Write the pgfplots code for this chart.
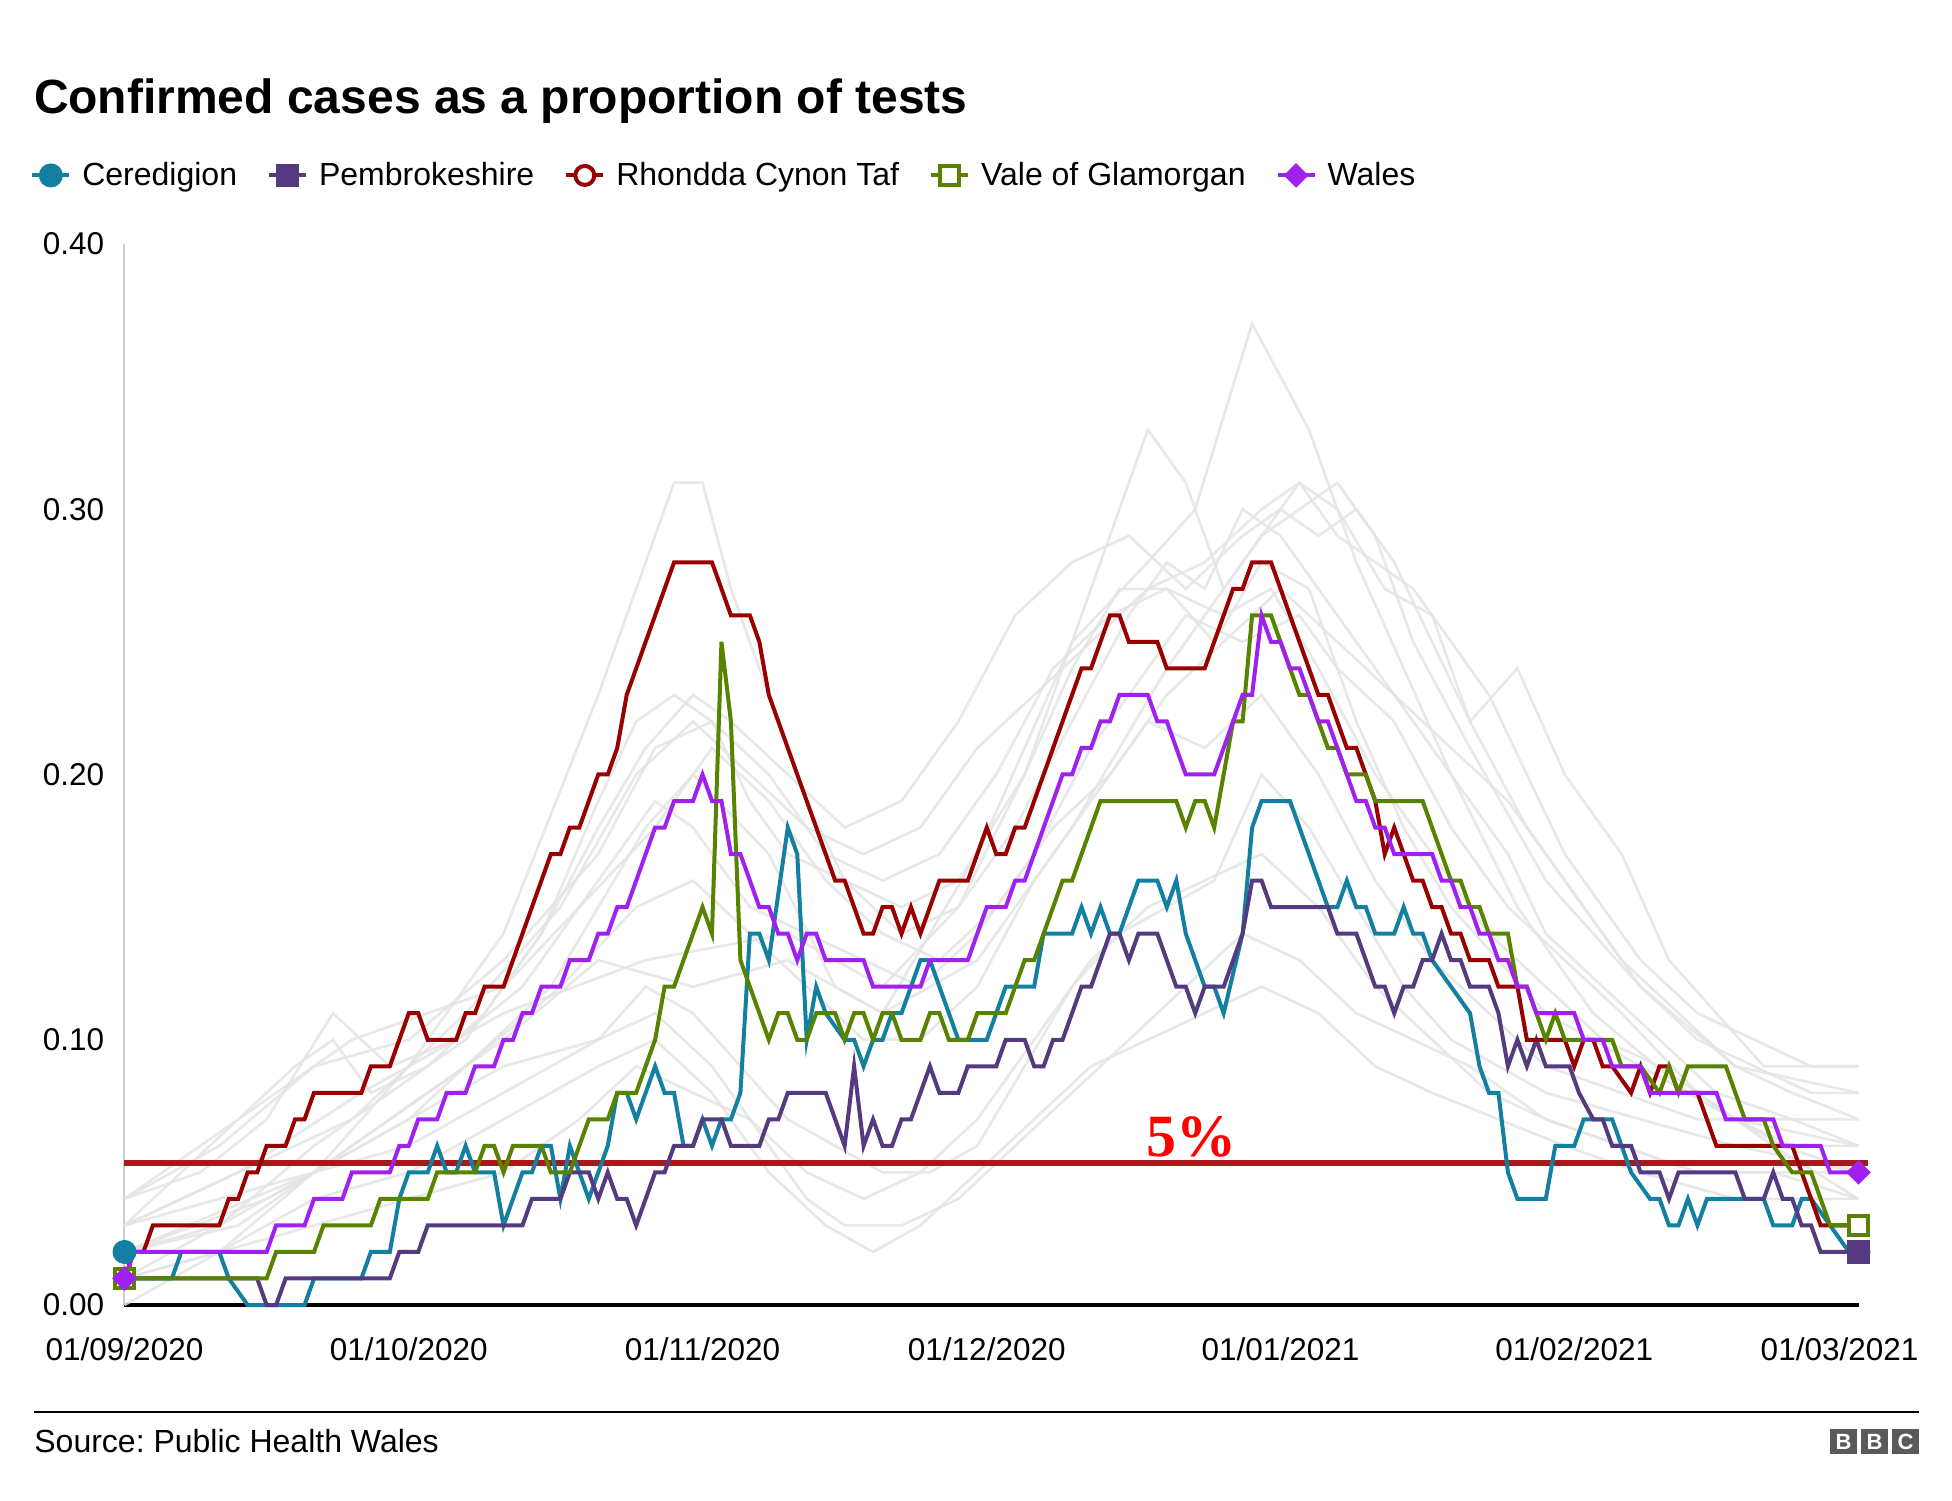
\documentclass[border=0pt]{standalone}
\usepackage{pgfplots}
\pgfplotsset{compat=1.18}
\usepackage{fontspec}
\setmainfont{Liberation Sans}
\newfontfamily\serifbold{Liberation Serif}[BoldFont={Liberation Serif Bold}]
\frenchspacing
\definecolor{cere}{HTML}{1380A1}
\definecolor{pemb}{HTML}{553A80}
\definecolor{rct}{HTML}{990000}
\definecolor{vale}{HTML}{588300}
\definecolor{wales}{HTML}{A020F0}
\definecolor{refline}{HTML}{A31A1A}
\definecolor{bggrey}{HTML}{E4E4E4}
\definecolor{logo}{HTML}{5A5A5A}
\pgfplotsset{
  cereS/.style={color=cere, mark=*, mark size=5.75pt, mark options={solid, line width=0.5pt, fill=cere}},
  pembS/.style={color=pemb, mark=square*, mark size=5.6pt, mark options={solid, line width=0.5pt, fill=pemb}},
  rctS/.style={color=rct, mark=*, mark size=4.75pt, mark options={solid, line width=2pt, fill=white, draw=rct}},
  valeS/.style={color=vale, mark=square*, mark size=4.7pt, mark options={solid, line width=2pt, fill=white, draw=vale}},
  walesS/.style={color=wales, mark=square*, mark size=4.1pt, mark options={solid, rotate=45, line width=0.5pt, fill=wales}},
  mainline/.style={line width=2pt, mark repeat=10000},
  greyline/.style={color=bggrey, line width=1.3pt, opacity=0.85, forget plot},
}
\begin{document}
\begin{tikzpicture}[x=1pt,y=1pt]
\path[use as bounding box] (0,0) rectangle (976,750);
\node[anchor=base west, inner sep=0pt, font=\fontsize{24}{28}\selectfont\bfseries] at (16.8,693) {Confirmed cases as a proportion of tests};

\begin{axis}[
  at={(62.25pt,97.5pt)}, anchor=south west,
  scale only axis, width=867pt, height=530.5pt,
  xmin=0, xmax=183, ymin=0, ymax=0.4,
  clip=false,
  axis lines*=left,
  x axis line style={black, line width=2pt},
  y axis line style={draw=black!20, line width=1pt},
  major tick length=0pt,
  xtick={0,30,61,91,122,153,181},
  xticklabels={01/09/2020,01/10/2020,01/11/2020,01/12/2020,01/01/2021,01/02/2021,01/03/2021},
  ytick={0,0.1,0.2,0.3,0.4},
  yticklabels={0.00,0.10,0.20,0.30,0.40},
  tick label style={font=\fontsize{15.75}{18}\selectfont},
  xticklabel style={anchor=base, yshift=-27.5pt},
  yticklabel style={anchor=east, inner sep=0pt, xshift=-10pt},
  legend style={at={(-0.0543,1.0646)}, anchor=west, draw=none, fill=none,
    inner sep=0pt, outer sep=0pt, font=\fontsize{16}{19}\selectfont,
    /tikz/every odd column/.append style={column sep=5.5pt},
    /tikz/every even column/.append style={column sep=15pt},
    nodes={inner sep=0pt}},
  legend columns=-1,
  legend cell align=left,
  legend image code/.code={
    \draw[#1, mark repeat=1, mark phase=1] (0pt,0pt) -- (18.5pt,0pt);
    \draw[#1, mark repeat=1, mark phase=1] plot coordinates {(9.25pt,0pt)};
  },
]
% background local authorities (grey)
\addplot[greyline] coordinates {(0,0.02)(15,0.04)(30,0.07)(45,0.12)(55,0.18)(60,0.20)(68,0.17)(75,0.12)(80,0.11)(90,0.17)(100,0.25)(108,0.28)(113,0.30)(119,0.37)(125,0.33)(130,0.28)(135,0.24)(140,0.20)(147,0.15)(155,0.11)(165,0.08)(175,0.06)(183,0.05)};
\addplot[greyline] coordinates {(0,0.03)(12,0.05)(25,0.08)(40,0.11)(55,0.13)(70,0.14)(80,0.12)(88,0.15)(95,0.20)(100,0.25)(104,0.29)(108,0.33)(112,0.31)(116,0.27)(120,0.29)(124,0.30)(128,0.31)(132,0.29)(136,0.25)(142,0.21)(150,0.16)(160,0.12)(170,0.09)(183,0.08)};
\addplot[greyline] coordinates {(0,0.01)(10,0.02)(20,0.05)(30,0.09)(40,0.14)(50,0.23)(55,0.28)(58,0.31)(61,0.31)(64,0.27)(68,0.23)(72,0.19)(76,0.16)(82,0.15)(88,0.16)(95,0.20)(100,0.24)(105,0.27)(110,0.27)(115,0.25)(120,0.28)(125,0.27)(130,0.22)(135,0.18)(140,0.15)(150,0.11)(160,0.09)(170,0.07)(183,0.06)};
\addplot[greyline] coordinates {(0,0.02)(20,0.05)(40,0.10)(50,0.13)(60,0.12)(70,0.13)(80,0.11)(90,0.13)(100,0.18)(110,0.24)(118,0.28)(124,0.31)(128,0.30)(133,0.27)(138,0.26)(142,0.22)(147,0.24)(152,0.20)(158,0.17)(163,0.13)(168,0.11)(173,0.09)(178,0.09)(183,0.09)};
\addplot[greyline] coordinates {(0,0.03)(10,0.04)(20,0.05)(30,0.06)(40,0.08)(50,0.10)(55,0.12)(60,0.11)(65,0.09)(70,0.07)(75,0.06)(80,0.05)(85,0.05)(90,0.06)(95,0.09)(100,0.12)(105,0.14)(110,0.15)(115,0.16)(120,0.20)(125,0.18)(130,0.15)(135,0.12)(140,0.10)(145,0.09)(150,0.08)(160,0.07)(170,0.06)(183,0.05)};
\addplot[greyline] coordinates {(0,0.00)(10,0.02)(20,0.04)(30,0.05)(40,0.07)(50,0.09)(56,0.10)(62,0.08)(68,0.05)(74,0.03)(79,0.02)(84,0.03)(90,0.05)(96,0.07)(102,0.09)(108,0.10)(114,0.11)(120,0.12)(126,0.11)(132,0.09)(138,0.08)(145,0.07)(152,0.06)(160,0.05)(170,0.04)(183,0.04)};
\addplot[greyline] coordinates {(0,0.04)(10,0.06)(20,0.09)(30,0.10)(40,0.13)(50,0.17)(56,0.21)(62,0.22)(68,0.20)(74,0.17)(80,0.16)(86,0.17)(92,0.20)(98,0.24)(104,0.26)(110,0.27)(116,0.26)(121,0.27)(126,0.24)(132,0.20)(138,0.17)(144,0.14)(150,0.12)(156,0.10)(162,0.09)(170,0.07)(176,0.06)(183,0.06)};
\addplot[greyline] coordinates {(0,0.02)(12,0.03)(24,0.06)(36,0.09)(46,0.12)(54,0.15)(60,0.16)(66,0.14)(72,0.12)(78,0.10)(84,0.10)(90,0.12)(96,0.16)(102,0.19)(108,0.22)(114,0.21)(120,0.23)(126,0.20)(132,0.16)(138,0.13)(144,0.11)(150,0.09)(158,0.08)(166,0.07)(174,0.07)(183,0.07)};
\addplot[greyline] coordinates {(0,0.04)(8,0.05)(15,0.07)(22,0.11)(28,0.09)(35,0.10)(42,0.12)(50,0.16)(56,0.19)(60,0.18)(66,0.15)(72,0.14)(78,0.13)(84,0.12)(90,0.14)(96,0.17)(102,0.21)(108,0.24)(112,0.26)(118,0.25)(124,0.26)(128,0.24)(134,0.22)(140,0.18)(146,0.15)(152,0.13)(158,0.11)(166,0.08)(174,0.06)(183,0.04)};
\addplot[greyline] coordinates {(0,0.03)(6,0.05)(12,0.07)(18,0.09)(22,0.10)(26,0.08)(32,0.09)(38,0.11)(44,0.14)(50,0.19)(54,0.22)(58,0.23)(62,0.22)(66,0.19)(70,0.17)(76,0.16)(82,0.14)(88,0.15)(94,0.18)(100,0.22)(106,0.26)(110,0.28)(114,0.27)(118,0.30)(122,0.29)(126,0.27)(130,0.25)(136,0.22)(140,0.20)(146,0.17)(150,0.14)(156,0.12)(162,0.10)(168,0.08)(176,0.07)(183,0.06)};
\addplot[greyline] coordinates {(0,0.02)(10,0.03)(20,0.06)(28,0.08)(36,0.10)(44,0.14)(50,0.18)(55,0.21)(60,0.23)(64,0.22)(70,0.20)(76,0.18)(82,0.19)(88,0.22)(94,0.26)(100,0.28)(106,0.29)(112,0.27)(118,0.29)(122,0.30)(126,0.29)(130,0.30)(134,0.28)(138,0.25)(142,0.22)(148,0.18)(154,0.15)(160,0.12)(166,0.10)(172,0.09)(178,0.08)(183,0.08)};
\addplot[greyline] coordinates {(0,0.01)(10,0.02)(20,0.03)(30,0.04)(40,0.05)(48,0.07)(54,0.09)(60,0.08)(66,0.07)(72,0.05)(78,0.04)(84,0.05)(90,0.07)(96,0.10)(102,0.13)(108,0.15)(114,0.16)(120,0.17)(126,0.15)(132,0.12)(138,0.10)(144,0.08)(150,0.07)(158,0.06)(166,0.05)(174,0.05)(183,0.04)};
\addplot[greyline] coordinates {(0,0.03)(12,0.05)(24,0.07)(36,0.11)(46,0.15)(54,0.20)(60,0.22)(66,0.20)(72,0.18)(78,0.17)(84,0.18)(90,0.21)(96,0.23)(102,0.25)(108,0.27)(114,0.28)(120,0.30)(124,0.31)(128,0.29)(132,0.28)(136,0.27)(140,0.25)(144,0.23)(148,0.20)(152,0.17)(156,0.15)(160,0.13)(166,0.11)(172,0.10)(178,0.09)(183,0.09)};
\addplot[greyline] coordinates {(0,0.04)(8,0.06)(16,0.08)(24,0.10)(32,0.11)(40,0.12)(48,0.15)(56,0.18)(62,0.21)(68,0.19)(74,0.16)(80,0.14)(86,0.13)(92,0.15)(98,0.18)(104,0.20)(110,0.23)(116,0.25)(122,0.27)(128,0.25)(134,0.23)(140,0.21)(146,0.19)(152,0.16)(158,0.13)(164,0.11)(170,0.09)(176,0.08)(183,0.07)};
\addplot[greyline] coordinates {(0,0.01)(10,0.03)(20,0.05)(30,0.07)(40,0.09)(50,0.10)(56,0.11)(62,0.09)(68,0.06)(72,0.04)(76,0.03)(82,0.03)(88,0.04)(94,0.06)(100,0.08)(106,0.10)(112,0.12)(118,0.14)(124,0.13)(130,0.11)(136,0.10)(142,0.09)(150,0.07)(158,0.06)(166,0.05)(174,0.05)(183,0.05)};

% 5% reference line
\addplot[refline, line width=2.6pt, forget plot] coordinates {(0,0.0535)(184,0.0535)};

% Ceredigion
\addplot[cereS, mainline] coordinates {(0,0.02)(1,0.01)(5,0.01)(6,0.02)(10,0.02)(11,0.01)(13,0.00)(19,0.00)(20,0.01)(25,0.01)(26,0.02)(28,0.02)(29,0.04)(30,0.05)(32,0.05)(33,0.06)(34,0.05)(35,0.05)(36,0.06)(37,0.05)(39,0.05)(40,0.03)(42,0.05)(43,0.05)(44,0.06)(45,0.06)(46,0.04)(47,0.06)(49,0.04)(51,0.06)(52,0.08)(53,0.08)(54,0.07)(56,0.09)(57,0.08)(58,0.08)(59,0.06)(60,0.06)(61,0.07)(62,0.06)(63,0.07)(64,0.07)(65,0.08)(66,0.14)(67,0.14)(68,0.13)(70,0.18)(71,0.17)(72,0.10)(73,0.12)(74,0.11)(76,0.10)(77,0.10)(78,0.09)(79,0.10)(80,0.10)(81,0.11)(82,0.11)(84,0.13)(85,0.13)(88,0.10)(91,0.10)(93,0.12)(96,0.12)(97,0.14)(100,0.14)(101,0.15)(102,0.14)(103,0.15)(104,0.14)(105,0.14)(107,0.16)(109,0.16)(110,0.15)(111,0.16)(112,0.14)(114,0.12)(115,0.12)(116,0.11)(118,0.14)(119,0.18)(120,0.19)(123,0.19)(124,0.18)(125,0.17)(126,0.16)(127,0.15)(128,0.15)(129,0.16)(130,0.15)(131,0.15)(132,0.14)(134,0.14)(135,0.15)(136,0.14)(137,0.14)(138,0.13)(140,0.12)(142,0.11)(143,0.09)(144,0.08)(145,0.08)(146,0.05)(147,0.04)(150,0.04)(151,0.06)(153,0.06)(154,0.07)(157,0.07)(159,0.05)(161,0.04)(162,0.04)(163,0.03)(164,0.03)(165,0.04)(166,0.03)(167,0.04)(173,0.04)(174,0.03)(176,0.03)(177,0.04)(178,0.04)(182,0.02)(183,0.02)};
\addlegendentry{Ceredigion}
\addplot[cereS, only marks, forget plot] coordinates {(183,0.02)};

% Pembrokeshire
\addplot[pembS, mainline] coordinates {(0,0.01)(14,0.01)(15,0.00)(16,0.00)(17,0.01)(28,0.01)(29,0.02)(31,0.02)(32,0.03)(42,0.03)(43,0.04)(46,0.04)(47,0.05)(49,0.05)(50,0.04)(51,0.05)(52,0.04)(53,0.04)(54,0.03)(56,0.05)(57,0.05)(58,0.06)(60,0.06)(61,0.07)(63,0.07)(64,0.06)(67,0.06)(68,0.07)(69,0.07)(70,0.08)(74,0.08)(76,0.06)(77,0.09)(78,0.06)(79,0.07)(80,0.06)(81,0.06)(82,0.07)(83,0.07)(85,0.09)(86,0.08)(88,0.08)(89,0.09)(92,0.09)(93,0.10)(95,0.10)(96,0.09)(97,0.09)(98,0.10)(99,0.10)(101,0.12)(102,0.12)(104,0.14)(105,0.14)(106,0.13)(107,0.14)(109,0.14)(111,0.12)(112,0.12)(113,0.11)(114,0.12)(116,0.12)(118,0.14)(119,0.16)(120,0.16)(121,0.15)(127,0.15)(128,0.14)(130,0.14)(132,0.12)(133,0.12)(134,0.11)(135,0.12)(136,0.12)(137,0.13)(138,0.13)(139,0.14)(140,0.13)(141,0.13)(142,0.12)(144,0.12)(145,0.11)(146,0.09)(147,0.10)(148,0.09)(149,0.10)(150,0.09)(152.5,0.09)(153.5,0.08)(155,0.07)(156,0.07)(157,0.06)(159,0.06)(160,0.05)(162,0.05)(163,0.04)(164,0.05)(170,0.05)(171,0.04)(173,0.04)(174,0.05)(175,0.04)(176,0.04)(177,0.03)(178,0.03)(179,0.02)(183,0.02)};
\addlegendentry{Pembrokeshire}
\addplot[pembS, only marks, forget plot] coordinates {(183,0.02)};

% Rhondda Cynon Taf
\addplot[rctS, mainline] coordinates {(0,0.01)(1,0.02)(2,0.02)(3,0.03)(10,0.03)(11,0.04)(12,0.04)(13,0.05)(14,0.05)(15,0.06)(17,0.06)(18,0.07)(19,0.07)(20,0.08)(25,0.08)(26,0.09)(28,0.09)(29,0.10)(30,0.11)(31,0.11)(32,0.10)(35,0.10)(36,0.11)(37,0.11)(38,0.12)(40,0.12)(41,0.13)(42,0.14)(43,0.15)(44,0.16)(45,0.17)(46,0.17)(47,0.18)(48,0.18)(49,0.19)(50,0.20)(51,0.20)(52,0.21)(53,0.23)(54,0.24)(55,0.25)(56,0.26)(57,0.27)(58,0.28)(62,0.28)(63,0.27)(64,0.26)(66,0.26)(67,0.25)(68,0.23)(69,0.22)(70,0.21)(71,0.20)(72,0.19)(73,0.18)(74,0.17)(75,0.16)(76,0.16)(77,0.15)(78,0.14)(79,0.14)(80,0.15)(81,0.15)(82,0.14)(83,0.15)(84,0.14)(85,0.15)(86,0.16)(89,0.16)(90,0.17)(91,0.18)(92,0.17)(93,0.17)(94,0.18)(95,0.18)(96,0.19)(97,0.20)(98,0.21)(99,0.22)(100,0.23)(101,0.24)(102,0.24)(103,0.25)(104,0.26)(105,0.26)(106,0.25)(109,0.25)(110,0.24)(114,0.24)(115,0.25)(116,0.26)(117,0.27)(118,0.27)(119,0.28)(121,0.28)(122,0.27)(123,0.26)(124,0.25)(125,0.24)(126,0.23)(127,0.23)(128,0.22)(129,0.21)(130,0.21)(131,0.20)(132,0.19)(133,0.17)(134,0.18)(135,0.17)(136,0.16)(137,0.16)(138,0.15)(139,0.15)(140,0.14)(141,0.14)(142,0.13)(144,0.13)(145,0.12)(147,0.12)(148,0.10)(152,0.10)(153,0.09)(154,0.10)(155,0.10)(156,0.09)(157,0.09)(159,0.08)(160,0.09)(161,0.08)(162,0.09)(163,0.09)(164,0.08)(166,0.08)(167,0.07)(168,0.06)(176,0.06)(177,0.05)(179,0.03)(183,0.03)};
\addlegendentry{Rhondda Cynon Taf}
\addplot[rctS, only marks, forget plot] coordinates {(183,0.03)};

% Vale of Glamorgan
\addplot[valeS, mainline] coordinates {(0,0.01)(15,0.01)(16,0.02)(20,0.02)(21,0.03)(26,0.03)(27,0.04)(32,0.04)(33,0.05)(37,0.05)(38,0.06)(39,0.06)(40,0.05)(41,0.06)(44,0.06)(45,0.05)(47,0.05)(48,0.06)(49,0.07)(51,0.07)(52,0.08)(54,0.08)(55,0.09)(56,0.10)(57,0.12)(58,0.12)(59,0.13)(60,0.14)(61,0.15)(62,0.14)(63,0.25)(64,0.22)(65,0.13)(66,0.12)(67,0.11)(68,0.10)(69,0.11)(70,0.11)(71,0.10)(72,0.10)(73,0.11)(75,0.11)(76,0.10)(77,0.11)(78,0.11)(79,0.10)(80,0.11)(81,0.11)(82,0.10)(84,0.10)(85,0.11)(86,0.11)(87,0.10)(89,0.10)(90,0.11)(93,0.11)(94,0.12)(95,0.13)(96,0.13)(97,0.14)(98,0.15)(99,0.16)(100,0.16)(101,0.17)(102,0.18)(103,0.19)(111,0.19)(112,0.18)(113,0.19)(114,0.19)(115,0.18)(116,0.20)(117,0.22)(118,0.22)(119,0.26)(121,0.26)(122,0.25)(123,0.24)(124,0.23)(125,0.23)(126,0.22)(127,0.21)(128,0.21)(129,0.20)(131,0.20)(132,0.19)(137,0.19)(138,0.18)(139,0.17)(140,0.16)(141,0.16)(142,0.15)(143,0.15)(144,0.14)(146,0.14)(147,0.12)(148,0.12)(149,0.11)(150,0.10)(151,0.11)(152,0.10)(157,0.10)(158,0.09)(160,0.09)(162,0.08)(163,0.09)(164,0.08)(165,0.09)(169,0.09)(170,0.08)(171,0.07)(173,0.07)(174,0.06)(176,0.05)(178,0.05)(179,0.04)(180,0.03)(183,0.03)};
\addlegendentry{Vale of Glamorgan}
\addplot[valeS, only marks, forget plot] coordinates {(183,0.03)};

% Wales
\addplot[walesS, mainline] coordinates {(0,0.01)(1,0.02)(15,0.02)(16,0.03)(19,0.03)(20,0.04)(23,0.04)(24,0.05)(28,0.05)(29,0.06)(30,0.06)(31,0.07)(33,0.07)(34,0.08)(36,0.08)(37,0.09)(39,0.09)(40,0.10)(41,0.10)(42,0.11)(43,0.11)(44,0.12)(46,0.12)(47,0.13)(49,0.13)(50,0.14)(51,0.14)(52,0.15)(53,0.15)(54,0.16)(55,0.17)(56,0.18)(57,0.18)(58,0.19)(60,0.19)(61,0.20)(62,0.19)(63,0.19)(64,0.17)(65,0.17)(66,0.16)(67,0.15)(68,0.15)(69,0.14)(70,0.14)(71,0.13)(72,0.14)(73,0.14)(74,0.13)(78,0.13)(79,0.12)(84,0.12)(85,0.13)(89,0.13)(90,0.14)(91,0.15)(93,0.15)(94,0.16)(95,0.16)(96,0.17)(97,0.18)(98,0.19)(99,0.20)(100,0.20)(101,0.21)(102,0.21)(103,0.22)(104,0.22)(105,0.23)(108,0.23)(109,0.22)(110,0.22)(111,0.21)(112,0.20)(115,0.20)(116,0.21)(117,0.22)(118,0.23)(119,0.23)(120,0.26)(121,0.25)(122,0.25)(123,0.24)(124,0.24)(125,0.23)(126,0.22)(127,0.22)(128,0.21)(129,0.20)(130,0.19)(131,0.19)(132,0.18)(133,0.18)(134,0.17)(138,0.17)(139,0.16)(140,0.16)(141,0.15)(142,0.15)(143,0.14)(144,0.14)(145,0.13)(146,0.13)(147,0.12)(148,0.12)(149,0.11)(153,0.11)(154,0.10)(156,0.10)(157,0.09)(160,0.09)(161,0.08)(168,0.08)(169,0.07)(174,0.07)(175,0.06)(179,0.06)(180,0.05)(183,0.05)};
\addlegendentry{Wales}
\addplot[walesS, only marks, forget plot] coordinates {(183,0.05)};

\node[anchor=base, inner sep=0pt, text=red, font=\serifbold\bfseries\fontsize{30}{34}\selectfont] at (axis cs:112.6,0.0558) {5\%};
\end{axis}

% footer
\draw[line width=1.25pt] (17,44) -- (959.5,44);
\node[anchor=base west, inner sep=0pt, font=\fontsize{16}{19}\selectfont] at (17,24) {Source: Public Health Wales};
\fill[logo] (915,23) rectangle (928.5,35.5);
\fill[logo] (930.5,23) rectangle (944,35.5);
\fill[logo] (946,23) rectangle (959.5,35.5);
\node[text=white, font=\bfseries\fontsize{11}{12}\selectfont, inner sep=0pt] at (921.75,29.25) {B};
\node[text=white, font=\bfseries\fontsize{11}{12}\selectfont, inner sep=0pt] at (937.25,29.25) {B};
\node[text=white, font=\bfseries\fontsize{11}{12}\selectfont, inner sep=0pt] at (952.75,29.25) {C};
\end{tikzpicture}
\end{document}
